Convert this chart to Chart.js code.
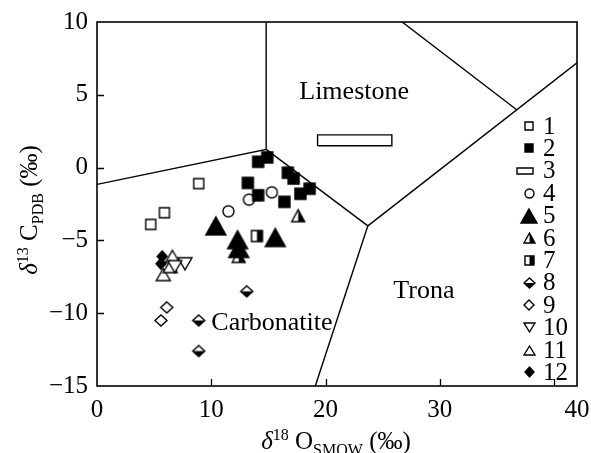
<!DOCTYPE html>
<html>
<head>
<meta charset="utf-8">
<script src="https://cdn.jsdelivr.net/npm/chart.js@4/dist/chart.umd.min.js"></script>
<style>
  html, body { margin: 0; padding: 0; background: #fff; }
</style>
</head>
<body>
<canvas id="isoChart" width="591" height="453"></canvas>
<script>
/*** Data (δ18O SMOW, δ13C PDB) ***/
const xTicks = [0, 10, 20, 30, 40];
const yTicks = [-15, -10, -5, 0, 5, 10];
const seriesLabels = ['1', '2', '3', '4', '5', '6', '7', '8', '9', '10', '11', '12'];

const s1 = [[4.7, -3.9], [5.9, -3.1], [8.9, -1.1]];
const s2 = [[14.1, 0.4], [14.9, 0.7], [13.2, -1.05], [14.1, -1.9], [16.7, -0.35],
            [17.2, -0.75], [16.4, -2.35], [17.8, -1.8], [18.6, -1.45]];
const s3 = [[19.3, 1.5], [25.8, 1.5], [25.8, 2.25], [19.3, 2.25], [19.3, 1.5]];
const s4 = [[11.5, -3.0], [13.3, -2.2], [15.3, -1.7]];
const s5 = [[10.4, -4.0], [12.3, -4.95], [12.4, -5.55], [15.6, -4.8]];
const s6 = [[12.4, -6.1], [17.6, -3.3]];
const s7 = [[14.0, -4.7]];
const s8 = [[13.1, -8.5], [8.9, -10.5], [8.9, -12.6]];
const s9 = [[6.1, -9.6], [5.6, -10.5]];
const s10 = [[7.7, -6.6], [6.8, -6.8]];
const s11 = [[6.6, -6.1], [5.8, -7.35], [6.4, -6.8]];
const s12 = [[5.7, -6.1], [5.6, -6.6]];

// field boundaries
const bLeft = [[0, -1.15], [14.8, 1.25], [14.8, 10]];
const bMid = [[14.8, 1.25], [23.7, -4.0]];
const bRight = [[23.7, -4.0], [42, 7.2]];
const bTop = [[26.7, 10], [36.75, 3.96]];
const bDown = [[23.7, -4.0], [19.1, -15]];

const fieldNames = ['Limestone', 'Trona', 'Carbonatite'];
const fieldAnchors = [[22.5, 5.2, 'center'], [28.6, -8.5, 'center'], [10.0, -10.7, 'left']];

const FONT = 'Liberation Serif';

/*** Marker images ***/
function shapePath(g, shape, cx, cy, hw, hh) {
    g.beginPath();
    if (shape === 'square' || shape === 'rect') g.rect(cx - hw, cy - hh, 2 * hw, 2 * hh);
    else if (shape === 'circle') g.ellipse(cx, cy, hw, hh, 0, 0, Math.PI * 2);
    else if (shape === 'triangle') { g.moveTo(cx, cy - hh); g.lineTo(cx + hw, cy + hh); g.lineTo(cx - hw, cy + hh); g.closePath(); }
    else if (shape === 'triangleDown') { g.moveTo(cx - hw, cy - hh); g.lineTo(cx + hw, cy - hh); g.lineTo(cx, cy + hh); g.closePath(); }
    else if (shape === 'diamond') { g.moveTo(cx, cy - hh); g.lineTo(cx + hw, cy); g.lineTo(cx, cy + hh); g.lineTo(cx - hw, cy); g.closePath(); }
}

function makeMarker(shape, fill, w, h) {
    const c = document.createElement('canvas');
    c.width = Math.ceil(w) + 4;
    c.height = Math.ceil(h) + 4;
    const g = c.getContext('2d');
    const cx = c.width / 2, cy = c.height / 2;
    g.lineWidth = 1.4;
    g.strokeStyle = '#000';
    shapePath(g, shape, cx, cy, w / 2, h / 2);
    g.fillStyle = fill === 'filled' ? '#000' : '#fff';
    g.fill();
    if (fill === 'right' || fill === 'bottom') {
        g.save();
        g.clip();
        g.fillStyle = '#000';
        if (fill === 'right') g.fillRect(cx, 0, c.width, c.height);
        else g.fillRect(0, cy, c.width, c.height);
        g.restore();
    }
    g.stroke();
    return c;
}

// [shape, fill, plot w, plot h, legend w, legend h]
const markerSpecs = [
    ['square', 'open', 10, 10, 8, 8],
    ['square', 'filled', 11, 11, 8, 8],
    ['rect', 'open', 16, 6, 16, 6],
    ['circle', 'open', 11, 11, 9, 9],
    ['triangle', 'filled', 20, 18, 16, 14],
    ['triangle', 'right', 13, 12, 11, 10],
    ['square', 'right', 11, 11, 9, 9],
    ['diamond', 'bottom', 12, 11, 11, 10],
    ['diamond', 'open', 12, 11, 10, 10],
    ['triangleDown', 'open', 14, 12, 11, 9],
    ['triangle', 'open', 14, 12, 11, 9],
    ['diamond', 'filled', 10, 11, 9, 10]
];
const plotMarkers = markerSpecs.map(m => makeMarker(m[0], m[1], m[2], m[3]));
const legendMarkers = markerSpecs.map(m => makeMarker(m[0], m[1], m[4], m[5]));

/*** Datasets ***/
const toXY = arr => arr.map(p => ({ x: p[0], y: p[1] }));
const pointSeries = [s1, s2, null, s4, s5, s6, s7, s8, s9, s10, s11, s12];

const datasets = [];
pointSeries.forEach((s, i) => {
    if (i === 2) {
        datasets.push({ label: seriesLabels[i], data: toXY(s3), showLine: true, pointRadius: 0,
            borderColor: '#000', borderWidth: 1.4, fill: false, tension: 0 });
        return;
    }
    datasets.push({ label: seriesLabels[i], data: toXY(s), pointStyle: plotMarkers[i],
        pointRadius: 6, showLine: false });
});
[bLeft, bMid, bRight, bTop, bDown].forEach(b => {
    datasets.push({ label: '', data: toXY(b), showLine: true, pointRadius: 0,
        borderColor: '#000', borderWidth: 1.4, fill: false, tension: 0 });
});

/*** Plugins: frame, ticks, titles, field names, legend ***/
const decorPlugin = {
    id: 'decor',
    afterDraw(chart) {
        const { ctx, chartArea: a, scales } = chart;
        ctx.save();
        ctx.strokeStyle = '#000';
        ctx.lineWidth = 1.6;
        ctx.strokeRect(a.left, a.top, a.right - a.left, a.bottom - a.top);
        ctx.lineWidth = 1.3;
        ctx.beginPath();
        xTicks.slice(1).forEach(v => {
            const px = Math.round(scales.x.getPixelForValue(v)) + 0.5;
            ctx.moveTo(px, a.bottom); ctx.lineTo(px, a.bottom - 7);
        });
        yTicks.slice(1, -1).forEach(v => {
            const py = Math.round(scales.y.getPixelForValue(v)) + 0.5;
            ctx.moveTo(a.left, py); ctx.lineTo(a.left + 7, py);
        });
        ctx.stroke();

        // field names
        ctx.fillStyle = '#000';
        ctx.font = '26px "' + FONT + '"';
        ctx.textBaseline = 'middle';
        fieldNames.forEach((name, i) => {
            const an = fieldAnchors[i];
            ctx.textAlign = an[2];
            ctx.fillText(name, scales.x.getPixelForValue(an[0]), scales.y.getPixelForValue(an[1]));
        });

        // legend
        ctx.textAlign = 'left';
        ctx.font = '25px "' + FONT + '"';
        seriesLabels.forEach((lab, i) => {
            const y = 126 + i * 22.4;
            const img = legendMarkers[i];
            const sx = i === 2 ? a.right - 52 : a.right - 48;
            ctx.drawImage(img, Math.round(sx - img.width / 2), Math.round(y - img.height / 2));
            ctx.fillText(lab, a.right - 34, y + 1);
        });

        // axis titles with super/subscripts
        const drawRich = (parts, cx, baseline) => {
            let total = 0;
            parts.forEach(p => { ctx.font = p.f; total += ctx.measureText(p.t).width; });
            let x = cx - total / 2;
            ctx.textAlign = 'left';
            ctx.textBaseline = 'alphabetic';
            parts.forEach(p => {
                ctx.font = p.f;
                ctx.fillText(p.t, x, baseline + (p.dy || 0));
                x += ctx.measureText(p.t).width;
            });
        };
        const big = '25px "' + FONT + '"';
        const ital = 'italic 25px "' + FONT + '"';
        const small = '16px "' + FONT + '"';
        drawRich([
            { t: '\u03b4', f: ital }, { t: '18', f: small, dy: -9 }, { t: ' O', f: big },
            { t: 'SMOW', f: small, dy: 6 }, { t: ' (\u2030)', f: big }
        ], 336, 449);

        ctx.save();
        ctx.translate(37, 210);
        ctx.rotate(-Math.PI / 2);
        drawRich([
            { t: '\u03b4', f: ital }, { t: '13', f: small, dy: -9 }, { t: ' C', f: big },
            { t: 'PDB', f: small, dy: 6 }, { t: ' (\u2030)', f: big }
        ], 0, 0);
        ctx.restore();
        ctx.restore();
    }
};

/*** Chart ***/
const tickFont = { family: FONT, size: 25 };
const ctx = document.getElementById('isoChart').getContext('2d');
const isoChart = new Chart(ctx, {
    type: 'scatter',
    data: { datasets: datasets },
    options: {
        responsive: false,
        animation: false,
        devicePixelRatio: 1,
        layout: { padding: { top: 22, right: 14, left: 0, bottom: 0 } },
        plugins: {
            legend: { display: false },
            tooltip: { enabled: false }
        },
        scales: {
            x: {
                type: 'linear', min: 0, max: 42,
                afterBuildTicks: s => { s.ticks = xTicks.concat([42]).map(v => ({ value: v })); },
                ticks: {
                    autoSkip: false, maxRotation: 0, color: '#000', font: tickFont, padding: 1,
                    callback: v => v === 42 ? '40' : (v === 40 ? '' : String(v))
                },
                grid: { display: false },
                border: { display: false },
                afterFit: s => { s.height = 67; }
            },
            y: {
                type: 'linear', min: -15, max: 10,
                afterBuildTicks: s => { s.ticks = yTicks.map(v => ({ value: v })); },
                ticks: {
                    autoSkip: false, color: '#000', font: tickFont, padding: 1,
                    callback: v => String(v).replace('-', '\u2212')
                },
                grid: { display: false },
                border: { display: false },
                afterFit: s => { s.width = 97; }
            }
        }
    },
    plugins: [decorPlugin]
});
</script>
</body>
</html>
